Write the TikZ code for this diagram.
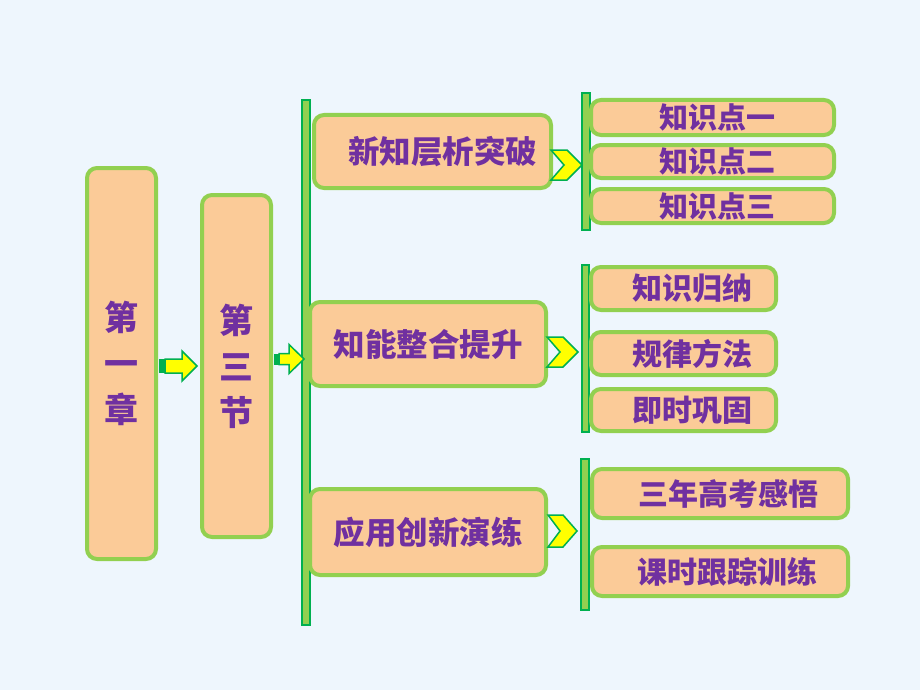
\documentclass[tikz,border=0pt]{standalone}
\usepackage{fontspec}
\usetikzlibrary{calc}
\newfontfamily\cjk{Noto Sans CJK SC}
\definecolor{bgc}{HTML}{EEF6FD}
\definecolor{lg}{HTML}{92D050}
\definecolor{dg}{HTML}{00B050}
\definecolor{peach}{HTML}{FBCB98}
\definecolor{purp}{HTML}{7030A0}
\definecolor{yel}{HTML}{FFFF00}
\tikzset{
  box/.style={draw=lg, line width=4pt, fill=peach, rounded corners=10pt, text=purp,
    inner sep=0pt, font=\cjk\bfseries\fontsize{30}{36}\selectfont},
  midbox/.style={box, font=\cjk\bfseries\fontsize{31.5}{36}\selectfont},
  bigbox/.style={box, align=center, font=\cjk\bfseries\fontsize{34}{46}\selectfont},
  smallbox/.style={box, font=\cjk\bfseries\fontsize{29}{32}\selectfont},
  bar/.style={fill=lg, draw=dg, line width=1.2pt},
  arrowbody/.style={fill=yel, draw=dg, line width=1.5pt, line join=miter},
}
\begin{document}
\begin{tikzpicture}[x=1pt,y=-1pt]
\fill[bgc] (0,0) rectangle (920,690);
\useasboundingbox (0,0) rectangle (920,690);

% left boxes
\node[bigbox, minimum width=69pt, minimum height=391pt] (c1) at (121.5,363.5) {第\\一\\章};
\node[bigbox, minimum width=69pt, minimum height=342pt] (c2) at (236.5,366) {第\\三\\节};

% bars
\path[bar] (302,100) rectangle (310,625);
\path[bar] (582,93) rectangle (590,230);
\path[bar] (582,265) rectangle (589,432);
\path[bar] (581,459) rectangle (589,610);

% middle boxes
\node[midbox, minimum width=237pt, minimum height=73pt] (m1) at (432.5,151.5) {\hspace*{20pt}新知层析突破};
\node[midbox, minimum width=236pt, minimum height=84pt] (m2) at (428,344) {知能整合提升};
\node[midbox, minimum width=236pt, minimum height=86pt] (m3) at (428,532) {应用创新演练};

% right boxes
\node[smallbox, minimum width=243pt, minimum height=35pt] (k1) at (712.5,117.5) {\hspace*{10pt}知识点一};
\node[smallbox, minimum width=243pt, minimum height=33pt] (k2) at (712.5,161.5) {\hspace*{10pt}知识点二};
\node[smallbox, minimum width=243pt, minimum height=34pt] (k3) at (712.5,206) {\hspace*{10pt}知识点三};

\node[box, minimum width=185pt, minimum height=43pt] (g1) at (683.5,288.5) {\hspace*{17pt}知识归纳};
\node[box, minimum width=185pt, minimum height=43pt] (g2) at (683.5,353.5) {\hspace*{17pt}规律方法};
\node[box, minimum width=185pt, minimum height=42pt] (g3) at (683.5,410) {\hspace*{17pt}即时巩固};

\node[box, minimum width=256pt, minimum height=49pt] (s1) at (720,493.5) {\hspace*{16pt}三年高考感悟};
\node[box, minimum width=256pt, minimum height=49pt] (s2) at (720,571.5) {\hspace*{14pt}课时跟踪训练};

% block arrows
\begin{scope}[shift={($(c1.east)+(1,2.5)$)}]
  \fill[dg] (0,-7) rectangle (6,7);
  \path[arrowbody] (6,-7) -- (23,-7) -- (23,-15) -- (38,0) -- (23,15) -- (23,7) -- (6,7) -- cycle;
\end{scope}
\begin{scope}[shift={($(c2.east)+(1,-7)$)}]
  \fill[dg] (0,-5.5) rectangle (5,5.5);
  \path[arrowbody] (5,-5.5) -- (15,-5.5) -- (15,-14.5) -- (30,0) -- (15,14.5) -- (15,5.5) -- (5,5.5) -- cycle;
\end{scope}

% chevrons
\begin{scope}[shift={($(m1.east)+(-2,13.5)$)}]
  \path[arrowbody] (0,-15) -- (16,-15) -- (31,0) -- (16,15) -- (0,15) -- (13,0) -- cycle;
\end{scope}
\begin{scope}[shift={($(m2.east)+(-1,8)$)}]
  \path[arrowbody] (0,-15) -- (16,-15) -- (31,0) -- (16,15) -- (0,15) -- (13,0) -- cycle;
\end{scope}
\begin{scope}[shift={($(m3.east)+(0,-1)$)}]
  \path[arrowbody] (0,-16) -- (15,-16) -- (29,0) -- (15,16) -- (0,16) -- (12,0) -- cycle;
\end{scope}
\end{tikzpicture}
\end{document}
